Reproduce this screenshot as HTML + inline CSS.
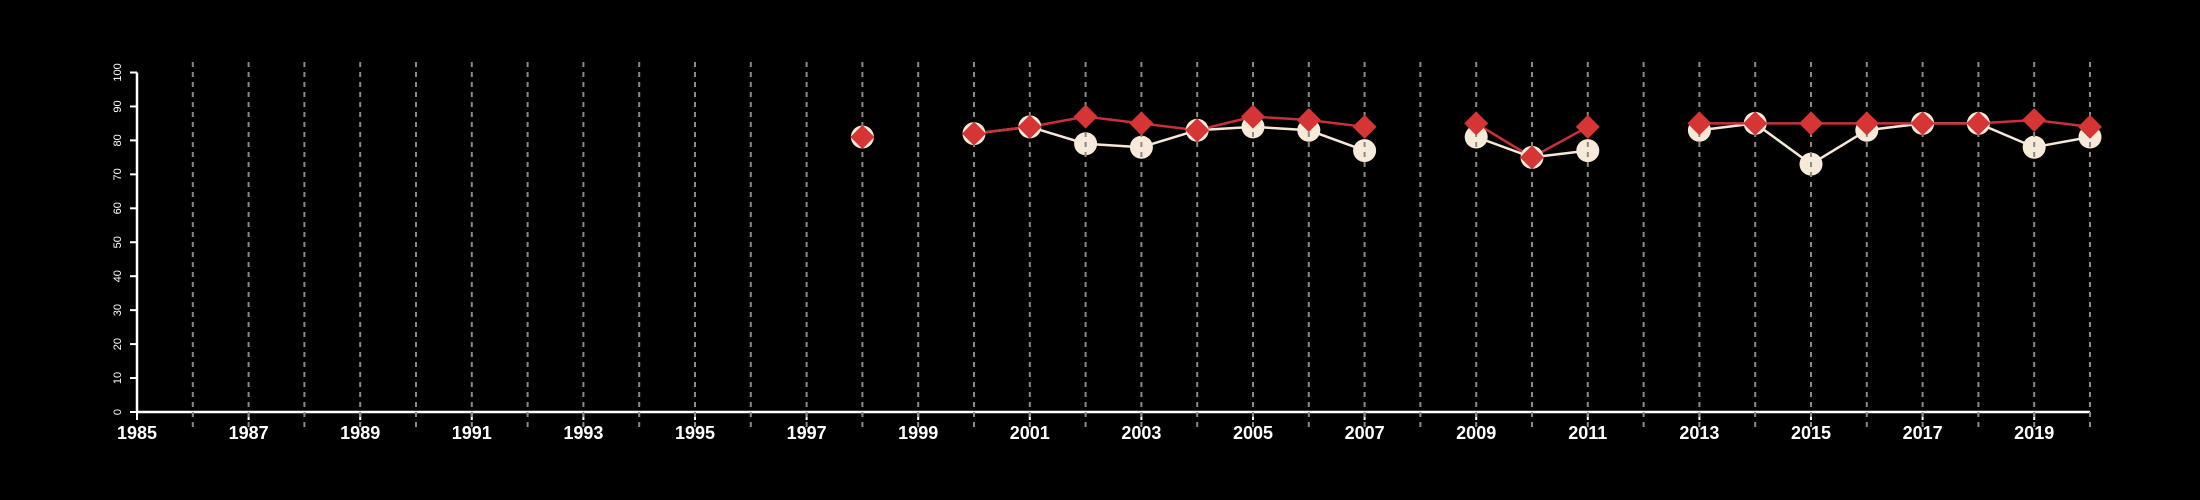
<!DOCTYPE html>
<html><head><meta charset="utf-8"><style>
html,body{margin:0;padding:0;background:#000;}
svg{display:block;}
</style></head><body>
<svg id="chart" width="2200" height="500" viewBox="0 0 2200 500" xmlns="http://www.w3.org/2000/svg">
<rect width="2200" height="500" fill="#000"/>
<g id="axes"></g>
<g id="series"></g>
<g id="grid"></g>
<g id="series2"></g>
</svg>
<script>
const years = [1998,1999,2000,2001,2002,2003,2004,2005,2006,2007,2008,2009,2010,2011,2012,2013,2014,2015,2016,2017,2018,2019,2020];
const circleValues = [81,null,82,84,79,78,83,84,83,77,null,81,75,77,null,83,85,73,83,85,85,78,81];
const diamondValues = [81,null,82,84,87,85,83,87,86,84,null,85,75,84,null,85,85,85,85,85,85,86,84];
const yTicks = [0,10,20,30,40,50,60,70,80,90,100];
const xTickLabels = [1985,1987,1989,1991,1993,1995,1997,1999,2001,2003,2005,2007,2009,2011,2013,2015,2017,2019];

const NS='http://www.w3.org/2000/svg';
const X0=137, X1=2090, Y0=412, Y100=72.5;
const xs = y => X0 + (y-1985)*(X1-X0)/35;
const ys = v => Y0 - v*(Y0-Y100)/100;
function mk(tag, attrs, parent){const e=document.createElementNS(NS,tag);for(const k in attrs)e.setAttribute(k,attrs[k]);parent.appendChild(e);return e;}
const grid=document.getElementById('grid'), axes=document.getElementById('axes'), series=document.getElementById('series'), series2=document.getElementById('series2');

for(let yr=1986; yr<=2020; yr++){
  const l=mk('line',{x1:xs(yr),x2:xs(yr),y1:62,y2:428,stroke:'#8a8a8a','stroke-width':2,'stroke-dasharray':'5,5'},grid);
  
  
}
const xa=mk('line',{x1:X0,x2:X1,y1:Y0,y2:Y0,stroke:'#fff','stroke-width':2.5},axes);


const ya=mk('line',{x1:X0,x2:X0,y1:Y100,y2:Y0,stroke:'#fff','stroke-width':2.5},axes);


yTicks.forEach(v=>{
  const t=mk('line',{x1:X0-7,x2:X0,y1:ys(v),y2:ys(v),stroke:'#fff','stroke-width':2},axes);
  
  
  const tx=mk('text',{x:0,y:0,transform:`translate(${X0-16},${ys(v)}) rotate(-90)`,'text-anchor':'middle',fill:'#fff','font-size':11,'font-family':'Liberation Sans, sans-serif'},axes);
  tx.textContent=v;
  
  
});
xTickLabels.forEach(yr=>{
  const t=mk('line',{x1:xs(yr),x2:xs(yr),y1:Y0,y2:Y0+8,stroke:'#fff','stroke-width':2},axes);
  
  
  const tx=mk('text',{x:xs(yr),y:Y0+27,'text-anchor':'middle',fill:'#fff','font-size':18,'font-weight':'bold','font-family':'Liberation Sans, sans-serif'},axes);
  tx.textContent=yr;
  
  
});

function drawLine(vals,color,name){
  for(let i=1;i<years.length;i++){
    if(vals[i]==null||vals[i-1]==null)continue;
    const l=mk('line',{x1:xs(years[i-1]),y1:ys(vals[i-1]),x2:xs(years[i]),y2:ys(vals[i]),stroke:color,'stroke-width':2.5},series);
    
    
  }
}
drawLine(circleValues,'#f5e8d6','circle-series');
drawLine(diamondValues,'#c8303a','diamond-series');
years.forEach((yr,i)=>{
  if(circleValues[i]==null)return;
  const c=mk('circle',{cx:xs(yr),cy:ys(circleValues[i]),r:11.5,fill:'#f7ead8'},series);
  
  
});
years.forEach((yr,i)=>{
  if(diamondValues[i]==null)return;
  const x=xs(yr), y=ys(diamondValues[i]), d=12;
  const p=mk('polygon',{points:`${x},${y-d} ${x+d},${y} ${x},${y+d} ${x-d},${y}`,fill:'#d63535'},series2);
  
  
});
</script>
</body></html>
